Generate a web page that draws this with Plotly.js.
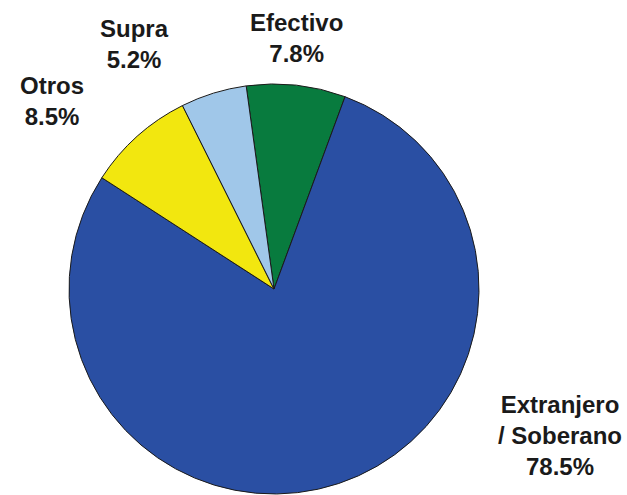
<!DOCTYPE html>
<html>
<head>
<meta charset="utf-8">
<script src="https://cdn.plot.ly/plotly-3.0.1.min.js"></script>
<style>html,body{margin:0;padding:0;background:#fff;}#chart{width:627px;height:495px;}</style>
</head>
<body>
<div id="chart"></div>
<script>
var categories = ["Efectivo", "Extranjero / Soberano", "Otros", "Supra"];
var values = [7.8, 78.5, 8.5, 5.2];
var labelTexts = ["Efectivo", "Extranjero<br>/ Soberano", "Otros", "Supra"];
var colors = ["#087b3e", "#2a4fa3", "#f2e70f", "#a0c7e9"];

var rotationDeg = -7.8;

var labelPos = [
  {x: 296, y: 38},
  {x: 560, y: 435},
  {x: 52, y: 101},
  {x: 134, y: 44}
];

var annotations = categories.map(function(c, i){
  return {
    x: labelPos[i].x / 627, y: 1 - labelPos[i].y / 495,
    xref: "paper", yref: "paper",
    xanchor: "center", yanchor: "middle",
    text: "<b>" + labelTexts[i] + "<br>" + values[i].toFixed(1) + "%</b>",
    showarrow: false,
    align: "center",
    font: {family: "Liberation Sans, Arial, sans-serif", size: 24, color: "#1a1a1a"}
  };
});

var data = [{
  type: "pie",
  labels: categories,
  values: values,
  sort: false,
  direction: "clockwise",
  rotation: rotationDeg,
  textinfo: "none",
  hoverinfo: "label+percent",
  marker: {colors: colors, line: {color: "#1a1a1a", width: 1}},
  domain: {x: [69/627, 479/627], y: [1/495, 411/495]}
}];

var layout = {
  width: 627, height: 495,
  margin: {l: 0, r: 0, t: 0, b: 0},
  showlegend: false,
  paper_bgcolor: "#ffffff",
  annotations: annotations
};

Plotly.newPlot("chart", data, layout, {displayModeBar: false, staticPlot: true});
</script>
</body>
</html>
